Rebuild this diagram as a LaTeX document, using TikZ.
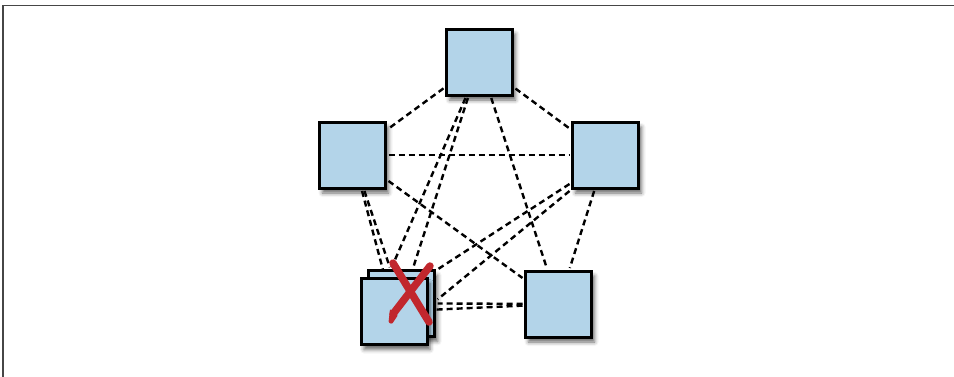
\documentclass[tikz,border=0pt]{standalone}
\usetikzlibrary{calc,shadows.blur,backgrounds}
\definecolor{boxblue}{RGB}{179,212,233}
\definecolor{xred}{RGB}{193,39,45}
\definecolor{framegray}{RGB}{70,70,70}
\begin{document}
\begin{tikzpicture}[x=1pt,y=-1pt,
  nodebox/.style={draw=black, line width=3pt, fill=boxblue, minimum size=66pt,
    inner sep=0pt, outer sep=3pt,
    blur shadow={shadow xshift=3pt, shadow yshift=-5pt, shadow blur radius=4pt, shadow opacity=60}},
  link/.style={draw=black, line width=2.4pt, dash pattern=on 6pt off 4pt},
  cross/.style={draw=xred, line width=7.5pt, line cap=round}]
\useasboundingbox (0,0) rectangle (954,376);
\draw[framegray, line width=1.3pt] (3,380) -- (3,5.5) -- (960,5.5);

\node[nodebox] (top)   at (479.5,62)  {};
\node[nodebox] (left)  at (352.5,155) {};
\node[nodebox] (right) at (605.5,155) {};
\node[nodebox] (br)    at (558.5,304) {};
\node[nodebox] (back)  at (401.7,303.3) {};
\node[nodebox] (front) at (394,311.5) {};

\begin{scope}[on background layer]
\draw[link] (top) -- (left);
\draw[link] (top) -- (right);
\draw[link] (left) -- (right);
\draw[link] (top) -- (br);
\draw[link] (left) -- (br);
\draw[link] (right) -- (br);
\draw[link] (left) -- (back);
\draw[link] (left) -- (front);
\draw[link] (top) -- (back);
\draw[link] (br) -- (back);
\draw[link] (br) -- (front);
\draw[link] ($(top.south)+(-14,0)$) -- ($(back.north)+(-10,0)$);
\draw[link] ($(right.west)+(0,29)$) -- ($(back.east)+(0,-34)$);
\draw[link] (right.south west) -- ($(back.east)+(0,-4)$);
\end{scope}

\draw[cross] (393,263) -- (429,322);
\draw[cross] (430,266) -- (393,314);
\fill[xred, rounded corners=1pt] (390,309) -- (388.5,322.5) -- (392,324) -- (398,315) -- cycle;
\end{tikzpicture}
\end{document}
